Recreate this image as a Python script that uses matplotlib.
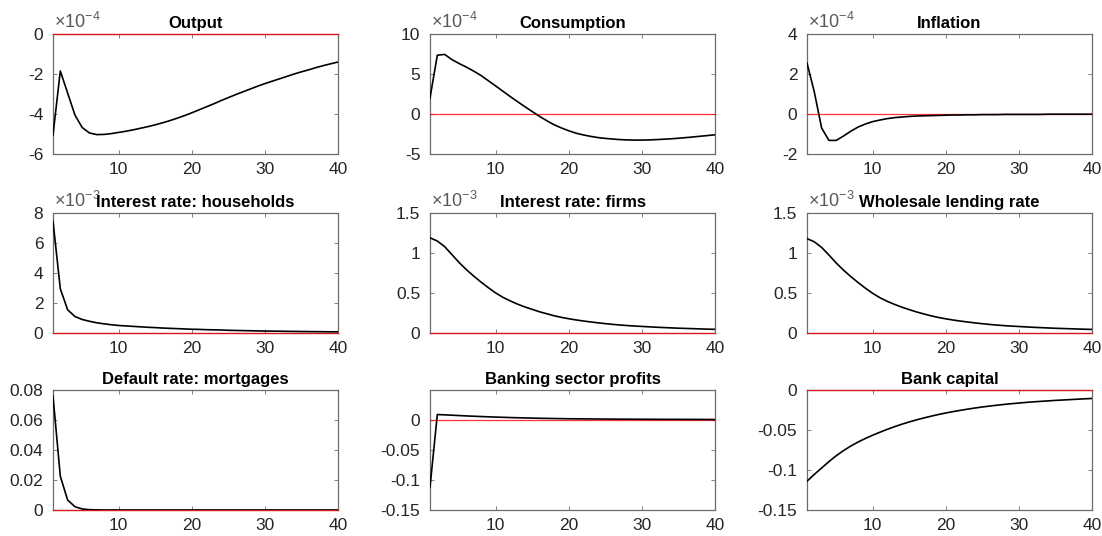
import numpy as np
import matplotlib
matplotlib.use("Agg")
import matplotlib.pyplot as plt
from matplotlib.ticker import FixedLocator, FuncFormatter

plt.rcParams['font.family'] = ['Liberation Sans', 'DejaVu Sans']
plt.rcParams['mathtext.fontset'] = 'custom'
plt.rcParams['mathtext.rm'] = 'Liberation Sans'
plt.rcParams['mathtext.it'] = 'Liberation Sans:italic'
plt.rcParams['axes.unicode_minus'] = False

periods = np.arange(1, 41)

# impulse responses, 40 periods each
output = np.array([
    -5.05, -1.85, -2.95, -4.05, -4.68, -4.95, -5.03, -5.02, -4.98, -4.92,
    -4.86, -4.79, -4.71, -4.63, -4.54, -4.44, -4.33, -4.21, -4.08, -3.94,
    -3.79, -3.64, -3.49, -3.33, -3.18, -3.03, -2.89, -2.75, -2.61, -2.48,
    -2.36, -2.24, -2.12, -2.00, -1.89, -1.79, -1.68, -1.58, -1.49, -1.40]) * 1e-4

consumption = np.array([
    2.0, 7.35, 7.45, 6.8, 6.3, 5.85, 5.35, 4.8, 4.15, 3.5,
    2.83, 2.17, 1.53, 0.9, 0.3, -0.3, -0.85, -1.35, -1.75, -2.1,
    -2.4, -2.62, -2.8, -2.95, -3.05, -3.13, -3.2, -3.24, -3.26, -3.26,
    -3.24, -3.2, -3.15, -3.1, -3.03, -2.95, -2.87, -2.78, -2.69, -2.6]) * 1e-4

inflation = np.array([
    2.55, 1.1, -0.7, -1.32, -1.32, -1.1, -0.86, -0.65, -0.5, -0.38,
    -0.3, -0.23, -0.18, -0.15, -0.12, -0.1, -0.09, -0.08, -0.07, -0.06,
    -0.05, -0.05, -0.04, -0.04, -0.03, -0.03, -0.03, -0.02, -0.02, -0.02,
    -0.02, -0.02, -0.02, -0.01, -0.01, -0.01, -0.01, -0.01, -0.01, -0.01]) * 1e-4

rate_households = np.array([
    7.45, 2.95, 1.55, 1.1, 0.9, 0.78, 0.68, 0.61, 0.55, 0.5,
    0.47, 0.44, 0.41, 0.38, 0.36, 0.33, 0.31, 0.29, 0.27, 0.25,
    0.24, 0.22, 0.21, 0.2, 0.18, 0.17, 0.16, 0.15, 0.14, 0.13,
    0.125, 0.12, 0.11, 0.105, 0.1, 0.095, 0.09, 0.085, 0.08, 0.078]) * 1e-3

rate_firms = np.array([
    1.19, 1.15, 1.08, 0.98, 0.88, 0.79, 0.71, 0.635, 0.565, 0.5,
    0.445, 0.4, 0.36, 0.325, 0.295, 0.265, 0.24, 0.215, 0.195, 0.178,
    0.163, 0.15, 0.138, 0.127, 0.117, 0.108, 0.1, 0.093, 0.087, 0.082,
    0.077, 0.072, 0.068, 0.064, 0.06, 0.057, 0.054, 0.051, 0.048, 0.046]) * 1e-3

wholesale_rate = np.array([
    1.18, 1.14, 1.07, 0.975, 0.875, 0.785, 0.705, 0.63, 0.56, 0.495,
    0.44, 0.395, 0.357, 0.322, 0.292, 0.263, 0.238, 0.214, 0.194, 0.177,
    0.162, 0.149, 0.137, 0.126, 0.116, 0.107, 0.099, 0.092, 0.086, 0.081,
    0.076, 0.071, 0.067, 0.063, 0.059, 0.056, 0.053, 0.05, 0.047, 0.045]) * 1e-3

default_mortgages = np.array([
    0.0759, 0.0225, 0.0067, 0.0022, 0.0007, 0.0002, 0.0001, 0.0, 0.0, 0.0,
    0.0, 0.0, 0.0, 0.0, 0.0, 0.0, 0.0, 0.0, 0.0, 0.0,
    0.0, 0.0, 0.0, 0.0, 0.0, 0.0, 0.0, 0.0, 0.0, 0.0,
    0.0, 0.0, 0.0, 0.0, 0.0, 0.0, 0.0, 0.0, 0.0, 0.0])

bank_profits = np.array([
    -0.112, 0.0083, 0.0078, 0.0072, 0.0066, 0.006, 0.0055, 0.005, 0.0045, 0.0041,
    0.0037, 0.0033, 0.003, 0.0027, 0.0024, 0.0021, 0.0019, 0.0017, 0.0015, 0.0013,
    0.0012, 0.0011, 0.001, 0.0009, 0.0008, 0.0007, 0.0006, 0.0006, 0.0005, 0.0005,
    0.0004, 0.0004, 0.0003, 0.0003, 0.0003, 0.0002, 0.0002, 0.0002, 0.0001, 0.0001])

bank_capital = np.array([
    -0.114, -0.1055, -0.0975, -0.0895, -0.0822, -0.0757, -0.0700, -0.0650, -0.0605, -0.0565,
    -0.0527, -0.0491, -0.0458, -0.0427, -0.0399, -0.0373, -0.0349, -0.0327, -0.0306, -0.0287,
    -0.0270, -0.0254, -0.0239, -0.0225, -0.0212, -0.0201, -0.0190, -0.0180, -0.0171, -0.0163,
    -0.0155, -0.0148, -0.0142, -0.0136, -0.0130, -0.0125, -0.0120, -0.0115, -0.0110, -0.0106])

panels = [
    ('Output', output, (-6e-4, 0), [-6e-4, -4e-4, -2e-4, 0], -4),
    ('Consumption', consumption, (-5e-4, 10e-4), [-5e-4, 0, 5e-4, 10e-4], -4),
    ('Inflation', inflation, (-2e-4, 4e-4), [-2e-4, 0, 2e-4, 4e-4], -4),
    ('Interest rate: households', rate_households, (0, 8e-3),
     [0, 2e-3, 4e-3, 6e-3, 8e-3], -3),
    ('Interest rate: firms', rate_firms, (0, 1.5e-3), [0, 0.5e-3, 1e-3, 1.5e-3], -3),
    ('Wholesale lending rate', wholesale_rate, (0, 1.5e-3),
     [0, 0.5e-3, 1e-3, 1.5e-3], -3),
    ('Default rate: mortgages', default_mortgages, (0, 0.08),
     [0, 0.02, 0.04, 0.06, 0.08], 0),
    ('Banking sector profits', bank_profits, (-0.15, 0.049),
     [-0.15, -0.1, -0.05, 0], 0),
    ('Bank capital', bank_capital, (-0.15, 0), [-0.15, -0.1, -0.05, 0], 0),
]

W, H = 1102, 536
fig = plt.figure(figsize=(W / 100, H / 100), dpi=100)
fig.patch.set_facecolor('white')

col_left = [53, 430, 807]
row_top = [34, 213, 390]
ax_w, ax_h = 285, 120
axis_grey = '0.42'
text_grey = '0.15'

for i, (title, values, ylim, yticks, power) in enumerate(panels):
    r, c = divmod(i, 3)
    ax = fig.add_axes([col_left[c] / W, 1 - (row_top[r] + ax_h) / H, ax_w / W, ax_h / H])

    ax.plot(periods, values, color='black', lw=1.2, zorder=4)
    ax.plot(periods, np.zeros_like(periods), color='red', lw=0.9, zorder=3,
            clip_on=False, alpha=0.8)

    ax.set_xlim(1, 40)
    ax.set_ylim(*ylim)
    ax.xaxis.set_major_locator(FixedLocator([10, 20, 30, 40]))
    ax.yaxis.set_major_locator(FixedLocator(yticks))
    scale = 10.0 ** power
    ax.yaxis.set_major_formatter(FuncFormatter(lambda v, p, s=scale: '%g' % round(v / s, 6)))
    ax.xaxis.set_major_formatter(FuncFormatter(lambda v, p: '%g' % v))

    ax.tick_params(direction='in', length=3, width=0.6, top=True, right=True,
                   labelsize=12.5, colors=axis_grey, labelcolor=text_grey)
    ax.tick_params(axis='y', pad=7)
    ax.tick_params(axis='x', pad=6)
    for sp in ax.spines.values():
        sp.set_color(axis_grey)
        sp.set_linewidth(0.9)

    ax.set_title(title, fontsize=12, fontweight='bold', color='black', pad=4)
    if power != 0:
        ax.text(0.005, 1.015, r'$\times10^{%d}$' % power, transform=ax.transAxes,
                ha='left', va='bottom', fontsize=13, color='0.35')

fig.savefig('out.png', dpi=100, facecolor='white')
